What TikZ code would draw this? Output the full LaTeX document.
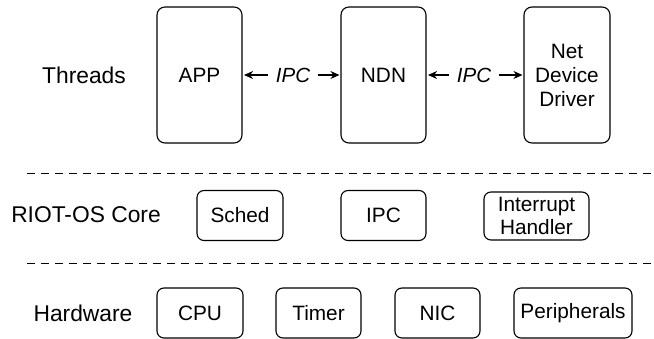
\documentclass[tikz,border=0pt]{standalone}
\usepackage{fontspec}
\setmainfont{Liberation Sans}
\usetikzlibrary{arrows.meta}
\tikzset{
  box/.style={draw, line width=1.1pt, rounded corners=7pt, align=center,
    font=\fontsize{20.8}{24}\selectfont, inner sep=0pt},
  layer/.style={font=\fontsize{22.8}{27}\selectfont, inner sep=0pt},
  ipclbl/.style={font=\fontsize{20.5}{24}\selectfont\itshape, inner xsep=8pt, inner ysep=0pt},
  arr/.style={line width=1.1pt, -{Stealth[length=9pt,width=8pt]}},
  sep/.style={line width=1pt, dash pattern=on 8pt off 6pt}
}
\begin{document}
\begin{tikzpicture}[x=1pt,y=-1pt]
\useasboundingbox (0,0) rectangle (654,339);
% layer labels
\node[layer] (threads) at (84,75) {Threads};
\node[layer] (core) at (86,215) {RIOT-OS Core};
\node[layer] (hw) at (83,313) {Hardware};
% threads
\node[box, minimum width=85pt, minimum height=136pt, rounded corners=8pt] (app) at (199.5,75) {APP};
\node[box, minimum width=85pt, minimum height=136pt, rounded corners=8pt] (ndn) at (383.5,75) {NDN};
\node[box, minimum width=86pt, minimum height=136pt, rounded corners=8pt] (drv) at (567,75) {Net\\Device\\Driver};
\node[ipclbl] (ipc1) at (293,75) {IPC};
\node[ipclbl] (ipc2) at (474,75) {IPC};
\draw[arr, shorten >=1.5pt] (ipc1) -- (app);
\draw[arr, shorten >=1pt] (ipc1) -- (ndn);
\draw[arr, shorten >=1.5pt] (ipc2) -- (ndn);
\draw[arr, shorten >=1pt] (ipc2) -- (drv);
% separators
\coordinate (s1a) at (27,174); \coordinate (s1b) at (652,174);
\coordinate (s2a) at (27,264); \coordinate (s2b) at (652,264);
\draw[sep] (s1a) -- (s1b);
\draw[sep] (s2a) -- (s2b);
% core
\node[box, minimum width=86pt, minimum height=50pt] (sched) at (240,215.5) {Sched};
\node[box, minimum width=85pt, minimum height=50pt] (ipc) at (383.5,215.5) {IPC};
\node[box, minimum width=105pt, minimum height=48pt, font=\fontsize{20.8}{23}\selectfont] (irq) at (536.5,216) {Interrupt\\Handler};
% hardware
\node[box, minimum width=86pt, minimum height=50pt] (cpu) at (200,313) {CPU};
\node[box, minimum width=85pt, minimum height=50pt] (timer) at (318.5,313) {Timer};
\node[box, minimum width=85pt, minimum height=50pt] (nic) at (437.5,313) {NIC};
\node[box, minimum width=118pt, minimum height=50pt] (per) at (573,313) {Peripherals};
\end{tikzpicture}
\end{document}
